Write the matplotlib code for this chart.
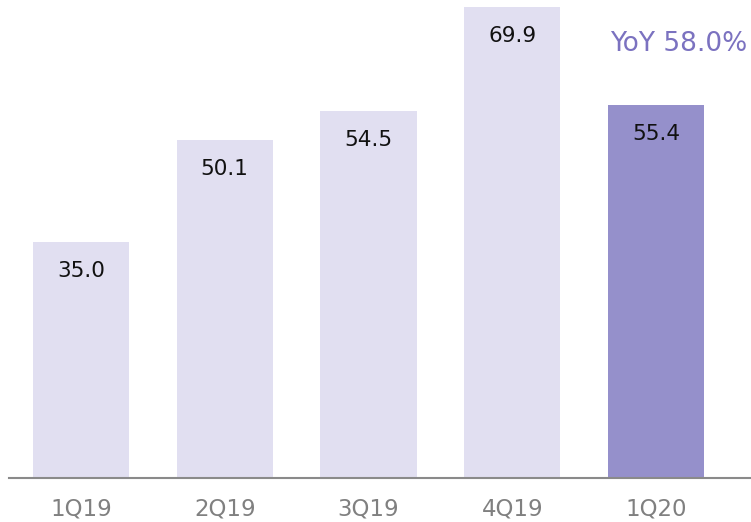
import matplotlib
matplotlib.use("Agg")
import matplotlib.pyplot as plt

quarters = ["1Q19", "2Q19", "3Q19", "4Q19", "1Q20"]
values = [35.0, 50.1, 54.5, 69.9, 55.4]
yoy_label = "YoY 58.0%"

light = "#e1dff1"
dark = "#9590cb"
colors = [light] * (len(values) - 1) + [dark]

fig = plt.figure(figsize=(7.51, 5.22), dpi=100)
ax = fig.add_axes([0, 44 / 522, 1, 478 / 522])

x = range(len(quarters))
ax.bar(x, values, width=0.668, color=colors, zorder=2)
for xi, v in zip(x, values):
    ax.annotate(f"{v:.1f}", (xi, v), xytext=(0, -21), textcoords="offset points",
                ha="center", va="center", fontsize=15.5, color="#111111")

ax.text(4.16, 64.4, yoy_label, ha="center", va="center", fontsize=19,
        color="#7b72c0")

ax.set_xlim(-0.5 - 9 / 143.75, 4.5 + 23 / 143.75)
ax.set_ylim(0, 478 / 6.74)
ax.set_xticks(list(x))
ax.set_xticklabels(quarters, fontsize=16.5, color="#808080")
ax.tick_params(axis="x", length=0, pad=14)
ax.set_yticks([])
for s in ["top", "right", "left"]:
    ax.spines[s].set_visible(False)
ax.spines["bottom"].set_color("#8a8a8a")
ax.spines["bottom"].set_linewidth(1.5)
ax.spines["bottom"].set_bounds(-0.5, 4.66)

fig.savefig("out.png", dpi=100)
